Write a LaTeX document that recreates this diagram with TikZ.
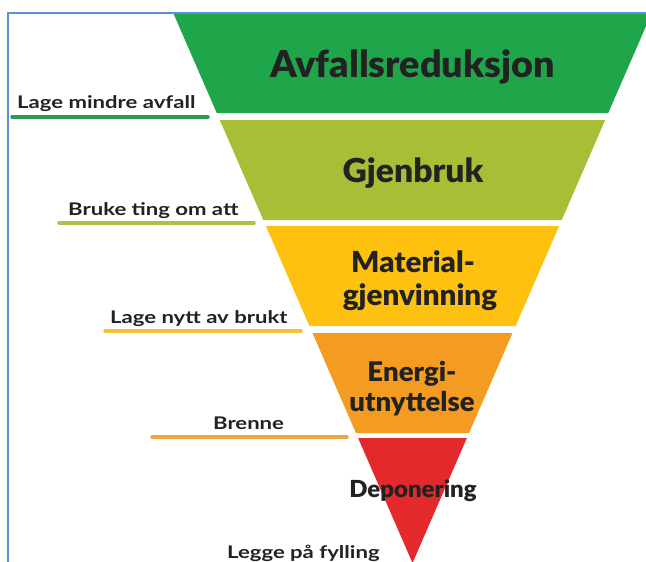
\documentclass[tikz,border=0pt]{standalone}
\usepackage{fontspec}
\setmainfont{Lato}
\newfontfamily\titlefont[FakeStretch=1.02]{Lato Black}
\newfontfamily\labfont[FakeStretch=1.27]{Lato}
\definecolor{cgreen}{HTML}{1FA64B}
\definecolor{colive}{HTML}{A9BE36}
\definecolor{cyellow}{HTML}{FEC10F}
\definecolor{corange}{HTML}{F49B21}
\definecolor{cred}{HTML}{E4292D}
\definecolor{lgreen}{HTML}{2E9A57}
\definecolor{lolive}{HTML}{AFC04A}
\definecolor{lyellow}{HTML}{F2C234}
\definecolor{lorange}{HTML}{EDA53E}
\definecolor{cborder}{HTML}{5B8ED6}
\definecolor{ink}{HTML}{222222}
\tikzset{
  title/.style={inner sep=0pt, text=ink, anchor=base, font=\titlefont\fontsize{#1}{#1}\selectfont},
  lab/.style={inner sep=0pt, text=ink, anchor=base west, font=\labfont\bfseries\fontsize{17.4}{17.4}\selectfont},
  uline/.style={line width=3.5pt, line cap=round},
}
\begin{document}
\begin{tikzpicture}[x=1pt,y=-1pt]
\useasboundingbox (0,0) rectangle (646,562);
\fill[white] (0,0) rectangle (646,562);
\begin{scope}
\clip (0,0) rectangle (646,562);
% bands
\fill[cgreen]  (173.25,13) -- (651.75,13) -- (608.25,113) -- (216.75,113) -- cycle;
\fill[colive]  (219.8,120) -- (605.2,120) -- (561.7,220) -- (263.3,220) -- cycle;
\fill[cyellow] (265.9,226) -- (559.1,226) -- (515.6,326) -- (309.4,326) -- cycle;
\fill[corange] (312.5,333) -- (512.5,333) -- (469.05,433) -- (355.95,433) -- cycle;
\fill[cred]    (358.1,438) -- (466.9,438) -- (412.5,563) -- cycle;
% titles
\node[title=37] (t1) at (412.5,77) {Avfallsreduksjon};
\node[title=33] (t2) at (413,182) {Gjenbruk};
\node[title=29] (t3a) at (413,272) {Material-};
\node[title=29] (t3b) at (420,305) {gjenvinning};
\node[title=27] (t4a) at (412,381) {Energi-};
\node[title=27] (t4b) at (412,411) {utnyttelse};
\node[title=23.5] (t5) at (413,497) {Deponering};
% labels
\node[lab] (l1) at (17,108) {Lage mindre avfall};
\node[lab] (l2) at (68,215) {Bruke ting om att};
\node[lab] (l3) at (110,323) {Lage nytt av brukt};
\node[lab] (l4) at (213,429) {Brenne};
\node[lab] (l5) at (227,558) {Legge på fylling};
% underlines
\coordinate (u1a) at (12,117);  \coordinate (u1b) at (208,117);
\coordinate (u2a) at (59,223);  \coordinate (u2b) at (254,223);
\coordinate (u3a) at (105,331); \coordinate (u3b) at (301,331);
\coordinate (u4a) at (152,437); \coordinate (u4b) at (347,437);
\draw[uline, lgreen]  (u1a) -- (u1b);
\draw[uline, lolive]  (u2a) -- (u2b);
\draw[uline, lyellow] (u3a) -- (u3b);
\draw[uline, lorange] (u4a) -- (u4b);
% border
\coordinate (b1) at (8,562); \coordinate (b2) at (8,13); \coordinate (b3) at (646,13);
\draw[cborder, line width=1.5pt] (b1) -- (b2) -- (b3);
\end{scope}
\end{tikzpicture}
\end{document}
